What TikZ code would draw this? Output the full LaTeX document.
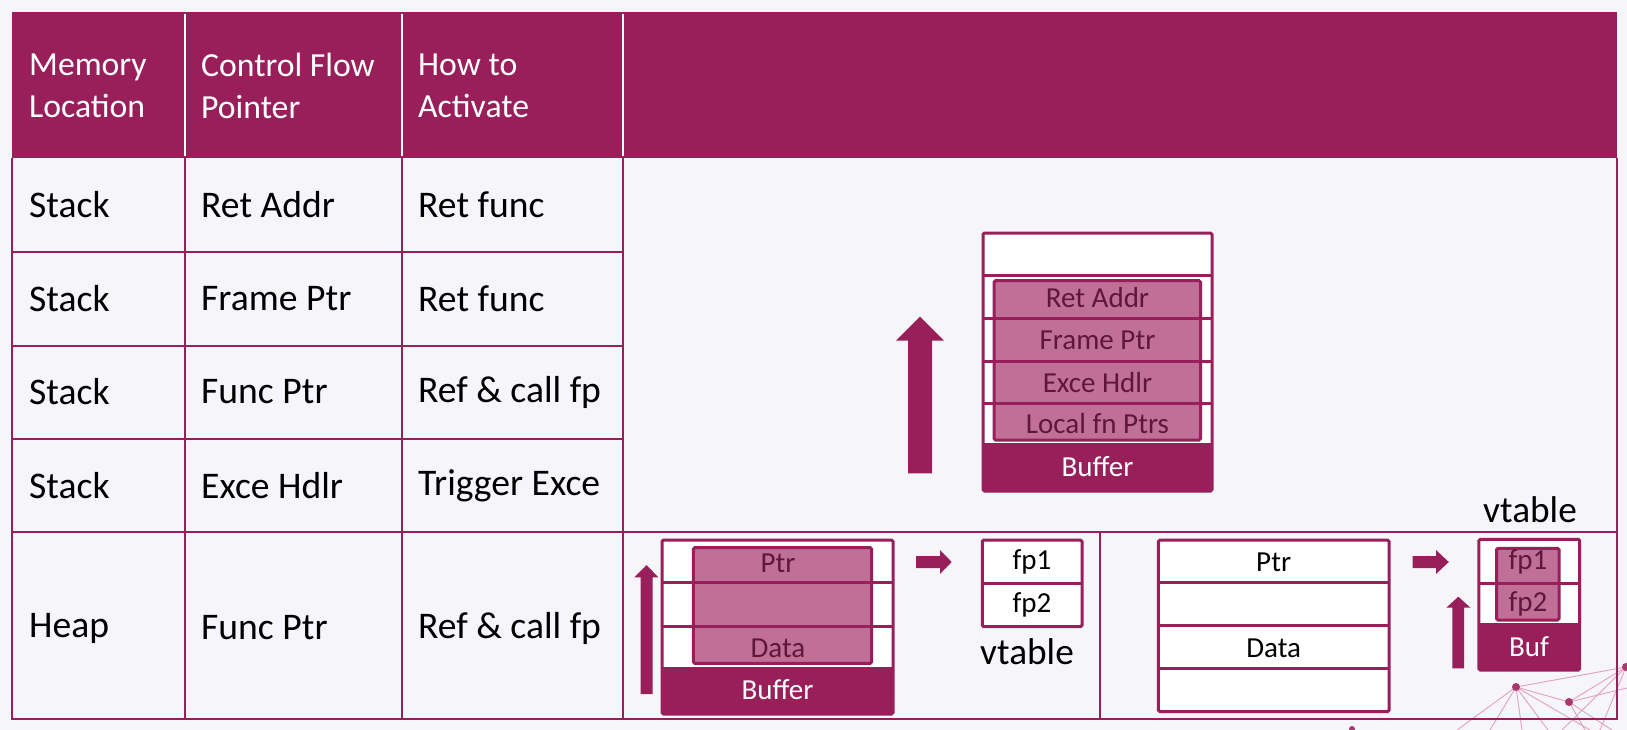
\documentclass[tikz,border=0pt]{standalone}
\usepackage{fontspec}
\setmainfont{Carlito}
\definecolor{mag}{RGB}{153,31,91}
\definecolor{pinkfill}{RGB}{192,112,150}
\definecolor{pinktext}{RGB}{96,22,58}
\definecolor{bgcol}{RGB}{246,246,250}
\definecolor{deco}{RGB}{226,160,192}
\begin{document}
\begin{tikzpicture}[x=1pt,y=-1pt,
  hdr/.style={anchor=west, align=left, text=white, inner sep=0pt, font=\fontsize{33.7}{42}\selectfont},
  cell/.style={anchor=west, inner sep=0pt, font=\fontsize{37.6}{44}\selectfont},
  lbl/.style={inner sep=0pt, font=\fontsize{29}{32}\selectfont},
  pinklbl/.style={lbl, text=pinktext},
  bandlbl/.style={lbl, text=white},
  bigtxt/.style={inner sep=0pt, font=\fontsize{37.3}{44}\selectfont},
  gridline/.style={draw=mag, line width=2pt},
  boxline/.style={draw=mag, line width=3pt},
  pinkbox/.style={draw=mag, line width=3pt, fill=pinkfill},
  bandfill/.style={fill=mag},
  blockarrow/.style={fill=mag},
  decoline/.style={draw=deco, line width=0.9pt},
  decodot/.style={fill=mag!80!deco}
]
\useasboundingbox (0,0) rectangle (1627,730);
\fill[bgcol] (0,0) rectangle (1627,730);

% background decoration
\coordinate (dA) at (1516,687);
\coordinate (dB) at (1569,702);
\coordinate (dC) at (1626,667);
\coordinate (dD) at (1352,729);
\draw[decoline] (dA) -- (dC);
\draw[decoline] (dA) -- (dB);
\draw[decoline] (dA) -- (1457,730);
\draw[decoline] (dA) -- (1490,730);
\draw[decoline] (dA) -- (1522,730);
\draw[decoline] (dA) -- (1548,730);
\draw[decoline] (dA) -- (1590,730);
\draw[decoline] (dB) -- (dC);
\draw[decoline] (dB) -- (1627,688);
\draw[decoline] (dB) -- (1612,730);
\draw[decoline] (dB) -- (1585,730);
\draw[decoline] (dC) -- (1562,730);
\draw[decoline] (dC) -- (1600,730);
\fill[decodot] (dA) circle (4);
\fill[decodot] (dB) circle (4);
\fill[decodot] (dC) circle (4);
\fill[decodot] (dD) circle (3);

% header
\fill[mag] (12,12) rectangle (1617,158);
\draw[white, line width=2pt] (185,14) -- (185,156);
\draw[white, line width=2pt] (402,14) -- (402,156);
\draw[white, line width=2pt] (623,14) -- (623,156);
\node[hdr] (h1) at (29,86) {Memory\\Location};
\node[hdr] (h2) at (201,86) {Control Flow\\Pointer};
\node[hdr] (h3) at (418,86) {How to\\Activate};

% body grid
\draw[gridline] (12,158) -- (12,719) -- (1617,719) -- (1617,158);
\draw[gridline] (12,252) -- (623,252);
\draw[gridline] (12,345.5) -- (623,345.5);
\draw[gridline] (12,439) -- (623,439);
\draw[gridline] (12,532) -- (1617,532);
\draw[gridline] (185,158) -- (185,719);
\draw[gridline] (402,158) -- (402,719);
\draw[gridline] (623,158) -- (623,719);
\draw[gridline] (1100,532) -- (1100,719);

% body text
\node[cell] (r1a) at (29,205) {Stack};
\node[cell] (r1b) at (201,205) {Ret Addr};
\node[cell] (r1c) at (418,205) {Ret func};
\node[cell] (r2a) at (29,298.5) {Stack};
\node[cell] (r2b) at (201,298.5) {Frame Ptr};
\node[cell] (r2c) at (418,298.5) {Ret func};
\node[cell] (r3a) at (29,392) {Stack};
\node[cell] (r3b) at (201,392) {Func Ptr};
\node[cell] (r3c) at (418,392) {Ref \& call fp};
\node[cell] (r4a) at (29,485.5) {Stack};
\node[cell] (r4b) at (201,485.5) {Exce Hdlr};
\node[cell] (r4c) at (418,485.5) {Trigger Exce};
\node[cell] (r5a) at (29,628) {Heap};
\node[cell] (r5b) at (201,628) {Func Ptr};
\node[cell] (r5c) at (418,628) {Ref \& call fp};

% stack diagram
\fill[white] (983,233) rectangle (1212,491);
\draw[pinkbox, rounded corners=1.5pt] (994,280.7) rectangle (1200.5,440);
\draw[boxline] (983,275.7) -- (1212,275.7);
\draw[boxline] (983,318) -- (1212,318);
\draw[boxline] (983,361.7) -- (1212,361.7);
\draw[boxline] (983,403.3) -- (1212,403.3);
\fill[bandfill] (983,443) rectangle (1212,491);
\draw[boxline, rounded corners=1.5pt] (983,233) rectangle (1212,491);
\node[pinklbl] (sRet) at (1097.5,298) {Ret Addr};
\node[pinklbl] (sFrm) at (1097.5,340) {Frame Ptr};
\node[pinklbl] (sExc) at (1097.5,383) {Exce Hdlr};
\node[pinklbl] (sLoc) at (1097.5,424) {Local fn Ptrs};
\node[bandlbl] (sBuf) at (1097.5,467) {Buffer};
\fill[blockarrow] (908,473.3) -- (908,340.7) -- (896,340.7) -- (920,316.7) -- (944,340.7) -- (932,340.7) -- (932,473.3) -- cycle;

% heap diagram left
\fill[white] (662,540) rectangle (893,714);
\draw[pinkbox, rounded corners=1.5pt] (693.3,547.7) rectangle (871.7,663.3);
\draw[boxline] (662,582.7) -- (893,582.7);
\draw[boxline] (662,626) -- (893,626);
\fill[bandfill] (662,666.7) rectangle (893,714);
\draw[boxline, rounded corners=1.5pt] (662,540) rectangle (893,714);
\node[pinklbl] (hPtr) at (778,563) {Ptr};
\node[pinklbl] (hData) at (778,648) {Data};
\node[bandlbl] (hBuf) at (777.5,690) {Buffer};
\fill[blockarrow] (640.7,694) -- (640.7,577.3) -- (634.3,577.3) -- (646.5,565) -- (658.3,577.3) -- (652.7,577.3) -- (652.7,694) -- cycle;
\fill[blockarrow] (916,556) -- (940,556) -- (940,550) -- (951.7,562) -- (940,574) -- (940,568) -- (916,568) -- cycle;
\draw[boxline, fill=white, rounded corners=1.5pt] (982.3,540) rectangle (1082,626.7);
\draw[boxline] (982.3,583.3) -- (1082,583.3);
\node[lbl] (vfp1) at (1032,562) {fp1};
\node[lbl] (vfp2) at (1032,605) {fp2};
\node[bigtxt] (vt1) at (1027,652) {vtable};

% heap diagram right
\draw[boxline, fill=white, rounded corners=1.5pt] (1158.4,540) rectangle (1389,711.7);
\draw[boxline] (1158.4,582.7) -- (1389,582.7);
\draw[boxline] (1158.4,625.7) -- (1389,625.7);
\draw[boxline] (1158.4,668.7) -- (1389,668.7);
\node[lbl] (rPtr) at (1273.7,562) {Ptr};
\node[lbl] (rData) at (1273.7,648) {Data};
\fill[blockarrow] (1412.6,556) -- (1436,556) -- (1436,550) -- (1448.8,562) -- (1436,574) -- (1436,568) -- (1412.6,568) -- cycle;
\fill[white] (1478.8,539.3) rectangle (1579.7,670);
\draw[pinkbox, rounded corners=1.5pt] (1496.5,548.3) rectangle (1559,620);
\draw[boxline] (1478.8,583.3) -- (1579.7,583.3);
\fill[bandfill] (1478.8,623.3) rectangle (1579.7,670);
\draw[boxline, rounded corners=1.5pt] (1478.8,539.3) rectangle (1579.7,670);
\node[pinklbl] (bfp1) at (1528,562) {fp1};
\node[pinklbl] (bfp2) at (1528,604) {fp2};
\node[bandlbl] (bBuf) at (1529,647) {Buf};
\node[bigtxt] (vt2) at (1530,510) {vtable};
\fill[blockarrow] (1452.4,668.3) -- (1452.4,607.7) -- (1446.3,607.7) -- (1458.3,596.7) -- (1470.5,607.7) -- (1464,607.7) -- (1464,668.3) -- cycle;
\end{tikzpicture}
\end{document}
